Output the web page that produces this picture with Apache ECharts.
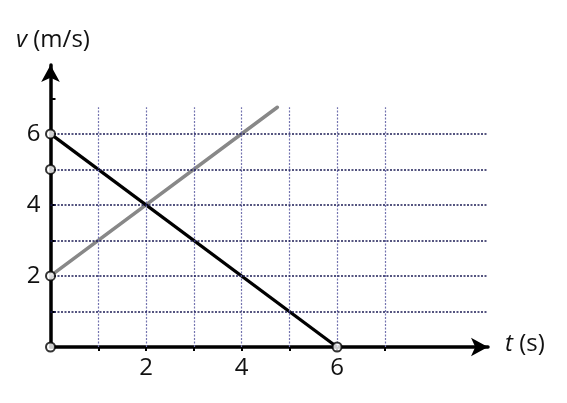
<!DOCTYPE html>
<html><head><meta charset="utf-8">
<script src="https://cdn.jsdelivr.net/npm/echarts@6/dist/echarts.min.js"></script>
<style>html,body{margin:0;padding:0;background:#fff}#c{width:567px;height:403px}</style>
</head><body><div id="c"></div>
<script>
// data
const grayT = [0, 4.75];
const grayV = [2, 6.75];
const blackT = [0, 6];
const blackV = [6, 0];
const markerT = [0, 0, 0, 0, 6];
const markerV = [6, 5, 2, 0, 0];
const gridT = [1, 2, 3, 4, 5, 6, 7];
const gridV = [1, 2, 3, 4, 5, 6];
const xTicks = [1, 2, 3, 4, 5, 6, 7];
const yTicks = [1, 2, 3, 4, 5, 6, 7];
const xTickLabels = [2, 4, 6];
const yTickLabels = [2, 4, 6];

const FONT = '"Open Sans", "Noto Sans", sans-serif';
const chart = echarts.init(document.getElementById('c'), null, {renderer: 'canvas'});

const hLines = gridV.map(v => [{coord: [0, v]}, {coord: [9.15, v]}]);
const vLines = gridT.map(t => [{coord: [t, 0]}, {coord: [t, 6.75]}]);

chart.setOption({
  animation: false,
  grid: {left: 50.5, right: 79, top: 65, bottom: 56},
  xAxis: {
    type: 'value', min: 0, max: 9.16, interval: 1,
    axisLine: {show: true, lineStyle: {color: '#000', width: 3.5}, symbol: ['none', 'arrow'], symbolSize: [14, 17]},
    axisTick: {show: true, inside: false, length: 4, customValues: xTicks, lineStyle: {color: '#000', width: 2}},
    axisLabel: {margin: 9, fontSize: 24, color: '#111', fontFamily: FONT, customValues: xTickLabels},
    splitLine: {show: false}
  },
  yAxis: {
    type: 'value', min: 0, max: 7.94, interval: 1,
    axisLine: {show: true, lineStyle: {color: '#000', width: 3.5}, symbol: ['none', 'arrow'], symbolSize: [14, 17]},
    axisTick: {show: true, inside: true, length: 5, customValues: yTicks, lineStyle: {color: '#000', width: 2}},
    axisLabel: {margin: 10, fontSize: 24, color: '#111', fontFamily: FONT, customValues: yTickLabels},
    splitLine: {show: false}
  },
  series: [
    {type: 'line', data: [], silent: true,
      markLine: {silent: true, symbol: ['none', 'none'], label: {show: false},
        lineStyle: {type: [2, 1.5], color: '#7474b0', width: 1.2}, data: vLines}},
    {type: 'line', data: [], silent: true,
      markLine: {silent: true, symbol: ['none', 'none'], label: {show: false},
        lineStyle: {type: [2, 1.5], color: '#1c1c55', width: 1.6}, data: hLines}},
    {type: 'line', data: grayT.map((t, i) => [t, grayV[i]]), showSymbol: false,
      lineStyle: {color: '#888', width: 3.5, cap: 'round'}, z: 3},
    {type: 'line', data: blackT.map((t, i) => [t, blackV[i]]), showSymbol: false,
      lineStyle: {color: '#000', width: 3.2}, z: 4},
    {type: 'scatter', data: markerT.map((t, i) => [t, markerV[i]]), symbol: 'circle', symbolSize: 9,
      itemStyle: {color: '#fff', borderColor: '#000', borderWidth: 2}, z: 6}
  ],
  graphic: [
    {type: 'text', left: 16, top: 28, style: {
      text: '{i|v} (m/s)', fontSize: 24, fontFamily: FONT, fill: '#111',
      rich: {i: {fontStyle: 'italic', fontSize: 24, fontFamily: FONT, fill: '#111'}}}},
    {type: 'text', left: 505, top: 332, style: {
      text: '{i|t} (s)', fontSize: 24, fontFamily: FONT, fill: '#111',
      rich: {i: {fontStyle: 'italic', fontSize: 24, fontFamily: FONT, fill: '#111'}}}}
  ]
});
</script></body></html>
